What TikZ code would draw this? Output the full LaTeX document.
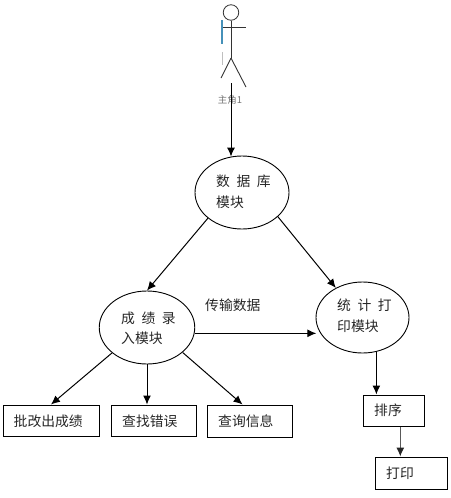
\documentclass[tikz,border=0pt]{standalone}
\usepackage{fontspec}
\setmainfont{Noto Sans CJK SC}
\usetikzlibrary{arrows.meta,shapes.geometric}
\newcommand{\gapp}{\hspace{6.5pt}}
\tikzset{
  >={Latex[length=9pt,width=8pt]},
  conn/.style={draw=black,line width=1pt,->},
  modell/.style={draw=black,line width=0.9pt,ellipse,inner sep=0pt},
  boxx/.style={draw=black,line width=1pt,inner sep=0pt},
  lab/.style={font=\fontsize{13.8pt}{16pt}\selectfont,inner sep=0pt,text=black!85,anchor=west},
  limb/.style={draw=black!80,line width=0.9pt}
}
\begin{document}
\begin{tikzpicture}[x=1pt,y=-1pt]
\useasboundingbox (0,0) rectangle (450,498);
% actor
\node[draw=black!80,line width=0.8pt,circle,minimum size=15.5pt,inner sep=0pt] (head) at (231,12.5) {};
\coordinate (hip) at (231,58);
\coordinate (armL) at (221,27);
\coordinate (armR) at (246,27);
\coordinate (legL) at (221,78);
\coordinate (legR) at (246,87);
\draw[limb] (head.south) -- (hip);
\draw[limb] (armL) -- (armR);
\draw[limb] (hip) -- (legL);
\draw[limb] (hip) -- (legR);
\draw[draw=blue!35!cyan!45!gray,line width=1.5pt] (222,20) -- (222,44);
\draw[draw=black!25,line width=1pt] (222,52) -- (222,65);
\node[font=\fontsize{9.5pt}{11pt}\selectfont,inner sep=0pt,text=black!55] (actorlab) at (230,100) {主角1};
\coordinate (actorbot) at (231,83);
% modules
\node[modell,minimum width=94pt,minimum height=73pt] (db) at (242,192.5) {};
\node[modell,minimum width=95.5pt,minimum height=73pt] (input) at (147,327.5) {};
\node[modell,minimum width=93pt,minimum height=71pt] (stat) at (362.5,317.5) {};
\node[lab] (dbt1) at (216,181) {数\gapp 据\gapp 库};
\node[lab] (dbt2) at (216,202) {模块};
\node[lab] (int1) at (121,318) {成\gapp 绩\gapp 录};
\node[lab] (int2) at (121,338) {入模块};
\node[lab] (stt1) at (337,305) {统\gapp 计\gapp 打};
\node[lab] (stt2) at (337,326) {印模块};
\node[lab] (trans) at (205,305) {传输数据};
% boxes
\node[boxx,minimum width=96pt,minimum height=31pt] (b1) at (51,420.5) {};
\node[boxx,minimum width=85pt,minimum height=31pt] (b2) at (153.5,420.5) {};
\node[boxx,minimum width=85pt,minimum height=32pt] (b3) at (249.5,421) {};
\node[boxx,minimum width=61pt,minimum height=31pt] (b4) at (393.5,410.5) {};
\node[boxx,minimum width=72pt,minimum height=32pt] (b5) at (411,473) {};
\node[lab] (b1t) at (13.5,421) {批改出成绩};
\node[lab] (b2t) at (122,421) {查找错误};
\node[lab] (b3t) at (218,421) {查询信息};
\node[lab] (b4t) at (374,410) {排序};
\node[lab] (b5t) at (386,473) {打印};
% connectors
\draw[conn] (actorbot) -- (actorbot |- db.107.5);
\draw[conn] (db.217) -- (input.north);
\draw[conn] (db.-34) -- (stat.132);
\draw[conn,shorten >=3pt] (input.-7) -- (input.-7 -| stat.198);
\draw[conn] (input.216) -- (b1.north);
\draw[conn] (input.south) -- (input.south |- b2.north);
\draw[conn] (input.-35) -- (b3.113.6);
\draw[conn] (stat.-68) -- (stat.-68 |- b4.north);
\draw[draw=black!65,line width=1pt,-{Latex[length=9pt,width=8pt,color=black!85]}] (b4.-67) -- (b4.-67 |- b5.north);
\end{tikzpicture}
\end{document}
